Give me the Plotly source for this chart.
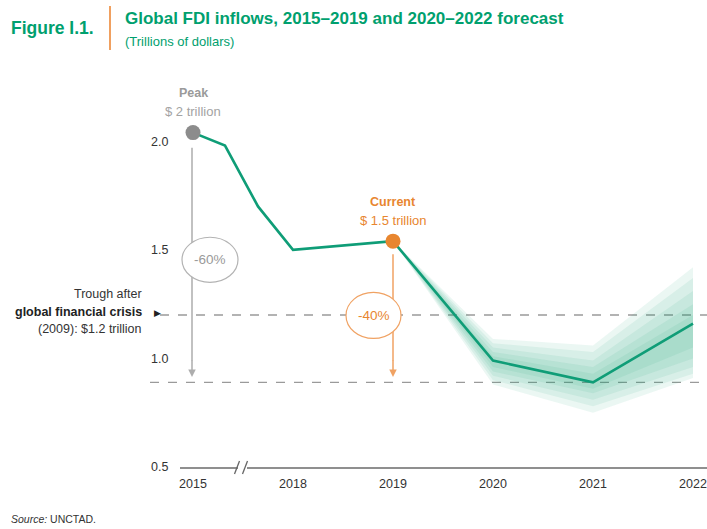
import plotly.graph_objects as go

# ---- data -------------------------------------------------------------
years = ["2015", "2016", "2017", "2018", "2019", "2020", "2021", "2022"]
# horizontal slot of each year (2015-2018 are compressed behind an axis break)
year_pos = [0.0, 0.32, 0.65, 1.0, 2.0, 3.0, 4.0, 5.0]
fdi = [2.04, 1.98, 1.70, 1.50, 1.54, 0.99, 0.89, 1.16]   # trillions of dollars

tick_years = ["2015", "2018", "2019", "2020", "2021", "2022"]
tick_pos = [0.0, 1.0, 2.0, 3.0, 4.0, 5.0]
y_ticks = [0.5, 1.0, 1.5, 2.0]

# forecast uncertainty bands, 2019-2022 (outermost first)
band_pos = [2.0, 3.0, 4.0, 5.0]
band_1_hi = [1.54, 1.09, 1.06, 1.42]
band_1_lo = [1.54, 0.88, 0.75, 0.91]
band_2_hi = [1.54, 1.07, 1.03, 1.37]
band_2_lo = [1.54, 0.90, 0.78, 0.93]
band_3_hi = [1.54, 1.05, 0.99, 1.31]
band_3_lo = [1.54, 0.92, 0.81, 0.96]
band_4_hi = [1.54, 1.03, 0.96, 1.25]
band_4_lo = [1.54, 0.94, 0.84, 1.00]
band_5_hi = [1.54, 1.01, 0.93, 1.20]
band_5_lo = [1.54, 0.96, 0.86, 1.05]

peak_value = fdi[0]
current_value = fdi[4]
trough_gfc = 1.2
forecast_low = fdi[6]

# ---- styling ----------------------------------------------------------
GREEN = "#0f9d77"
TITLE_GREEN = "#00a06e"
ORANGE = "#e8862f"
ORANGE_LIGHT = "#f0a263"
GREY = "#9a9a9a"
FONT = "Liberation Sans, Arial, sans-serif"

W, H = 707, 529
L, R, T, B = 180, 0, 87, 62
PW, PH = W - L - R, H - T - B


def fx(p):
    """pixel column -> paper x"""
    return (p - L) / PW


def fy(p):
    """pixel row -> paper y"""
    return (H - B - p) / PH


fig = go.Figure()

# uncertainty bands, stacked translucent layers for a soft gradient
for hi, lo in [(band_1_hi, band_1_lo), (band_2_hi, band_2_lo), (band_3_hi, band_3_lo),
               (band_4_hi, band_4_lo), (band_5_hi, band_5_lo)]:
    fig.add_trace(go.Scatter(
        x=band_pos + band_pos[::-1], y=hi + lo[::-1],
        fill="toself", fillcolor="rgba(20,160,120,0.085)",
        line=dict(width=0), mode="lines", hoverinfo="skip", showlegend=False))

# main series
fig.add_trace(go.Scatter(
    x=year_pos, y=fdi, mode="lines", line=dict(color=GREEN, width=2.6),
    text=years, hovertemplate="%{text}: %{y:.2f}<extra></extra>", showlegend=False))

# peak and current markers
fig.add_trace(go.Scatter(
    x=[year_pos[0]], y=[peak_value], mode="markers",
    marker=dict(size=15, color="#8c8c8c"), hoverinfo="skip", showlegend=False))
fig.add_trace(go.Scatter(
    x=[year_pos[4]], y=[current_value], mode="markers",
    marker=dict(size=15, color=ORANGE), hoverinfo="skip", showlegend=False))

shapes = []
# reference dashed lines
shapes.append(dict(type="line", xref="paper", yref="y", x0=fx(160), x1=1,
                   y0=trough_gfc, y1=trough_gfc,
                   line=dict(color="#9a9a9a", width=1.3, dash="dash"), layer="below"))
shapes.append(dict(type="line", xref="paper", yref="y", x0=fx(150), x1=1,
                   y0=forecast_low, y1=forecast_low,
                   line=dict(color="#9a9a9a", width=1.3, dash="dash"), layer="below"))

# drop lines from peak and current (arrowheads added as annotations)
shapes.append(dict(type="line", xref="x", yref="y",
                   x0=year_pos[0] - 0.01, x1=year_pos[0] - 0.01,
                   y0=peak_value - 0.07, y1=forecast_low + 0.1,
                   line=dict(color="#adadad", width=1.5), layer="above"))
shapes.append(dict(type="line", xref="x", yref="y",
                   x0=year_pos[4], x1=year_pos[4],
                   y0=current_value - 0.06, y1=forecast_low + 0.1,
                   line=dict(color=ORANGE_LIGHT, width=1.5), layer="above"))

# axis break marks
shapes.append(dict(type="rect", xref="paper", yref="paper",
                   x0=fx(238), x1=fx(247), y0=fy(470), y1=fy(464),
                   fillcolor="white", line=dict(width=0), layer="above"))
for px in (237, 245):
    shapes.append(dict(type="line", xref="paper", yref="paper",
                       x0=fx(px - 2.5), x1=fx(px + 2.5), y0=fy(474), y1=fy(461),
                       line=dict(color="#666", width=1.3), layer="above"))

# orange separator next to figure number
shapes.append(dict(type="line", xref="paper", yref="paper",
                   x0=fx(110), x1=fx(110), y0=fy(6), y1=fy(50),
                   line=dict(color="#f0a060", width=2)))

# change ellipses (white-filled so the drop lines pass behind them)
shapes.append(dict(type="circle", xref="x", yref="y",
                   x0=-0.11, x1=0.45, y0=1.35, y1=1.558,
                   fillcolor="white", line=dict(color="#b3b3b3", width=1.2), layer="above"))
shapes.append(dict(type="circle", xref="x", yref="y",
                   x0=1.53, x1=2.08, y0=1.092, y1=1.304,
                   fillcolor="white", line=dict(color=ORANGE_LIGHT, width=1.2), layer="above"))

annotations = []


def txt(text, x, y, size, color, xref="paper", yref="paper", xanchor="left",
        yanchor="middle", align="left"):
    annotations.append(dict(text=text, x=x, y=y, xref=xref, yref=yref,
                            xanchor=xanchor, yanchor=yanchor, align=align,
                            showarrow=False, font=dict(size=size, color=color, family=FONT)))


# headings
txt("<b>Figure I.1.</b>", fx(9), fy(28), 17.5, TITLE_GREEN)
txt("<b>Global FDI inflows, 2015\u20132019 and 2020\u20132022 forecast</b>",
    fx(123), fy(18), 17, TITLE_GREEN)
txt("(Trillions of dollars)", fx(123), fy(41), 13, TITLE_GREEN)

# peak / current labels
txt("<b>Peak</b>", year_pos[0], 2.222, 12.5, GREY, xref="x", yref="y", xanchor="center")
txt("$ 2 trillion", year_pos[0], 2.137, 13, "#a3a3a3", xref="x", yref="y", xanchor="center")
txt("<b>Current</b>", year_pos[4], 1.72, 12.5, ORANGE, xref="x", yref="y", xanchor="center")
txt("$ 1.5 trillion", year_pos[4], 1.636, 13, ORANGE, xref="x", yref="y", xanchor="center")

# percentage changes
txt("-60%", 0.17, 1.455, 13.5, GREY, xref="x", yref="y", xanchor="center")
txt("-40%", 1.805, 1.198, 13.5, ORANGE, xref="x", yref="y", xanchor="center")

# trough note
txt("Trough after", fx(144), fy(294), 12.5, "#333", xanchor="right")
txt("<b>global financial crisis</b>", fx(144), fy(312), 12.5, "#222", xanchor="right")
txt("(2009): $1.2 trillion", fx(144), fy(329), 12.5, "#333", xanchor="right")
txt("\u25B6", fx(152), fy(313), 9, "#222")

# source
txt("<i>Source:</i> UNCTAD.", fx(9), fy(519), 10.5, "#333")

# arrowheads at the end of the drop lines
annotations.append(dict(x=year_pos[0] - 0.01, y=forecast_low + 0.025, ax=year_pos[0] - 0.01,
                        ay=forecast_low + 0.11, xref="x", yref="y", axref="x", ayref="y",
                        showarrow=True, arrowhead=2, arrowsize=1, arrowwidth=1.5,
                        arrowcolor="#adadad", text=""))
annotations.append(dict(x=year_pos[4], y=forecast_low + 0.025, ax=year_pos[4],
                        ay=forecast_low + 0.11, xref="x", yref="y", axref="x", ayref="y",
                        showarrow=True, arrowhead=2, arrowsize=1, arrowwidth=1.5,
                        arrowcolor=ORANGE_LIGHT, text=""))

fig.update_layout(
    width=W, height=H,
    margin=dict(l=L, r=R, t=T, b=B),
    paper_bgcolor="white", plot_bgcolor="white",
    font=dict(family=FONT, color="#333"),
    shapes=shapes, annotations=annotations,
    xaxis=dict(range=[-0.13, 5.14], tickvals=tick_pos, ticktext=tick_years,
               showgrid=False, zeroline=False, showline=True,
               linecolor="#8f8f8f", linewidth=1.6,
               ticks="outside", ticklen=4, tickcolor="rgba(0,0,0,0)",
               tickfont=dict(size=12.5, color="#333", family=FONT), fixedrange=True),
    yaxis=dict(range=[0.5, 2.25], tickvals=y_ticks,
               ticktext=[f"{v:.1f}" for v in y_ticks],
               showgrid=False, zeroline=False, showline=False,
               ticks="outside", ticklen=8, tickcolor="rgba(0,0,0,0)",
               tickfont=dict(size=12.5, color="#333", family=FONT), fixedrange=True),
)

fig.write_html("out.html")
